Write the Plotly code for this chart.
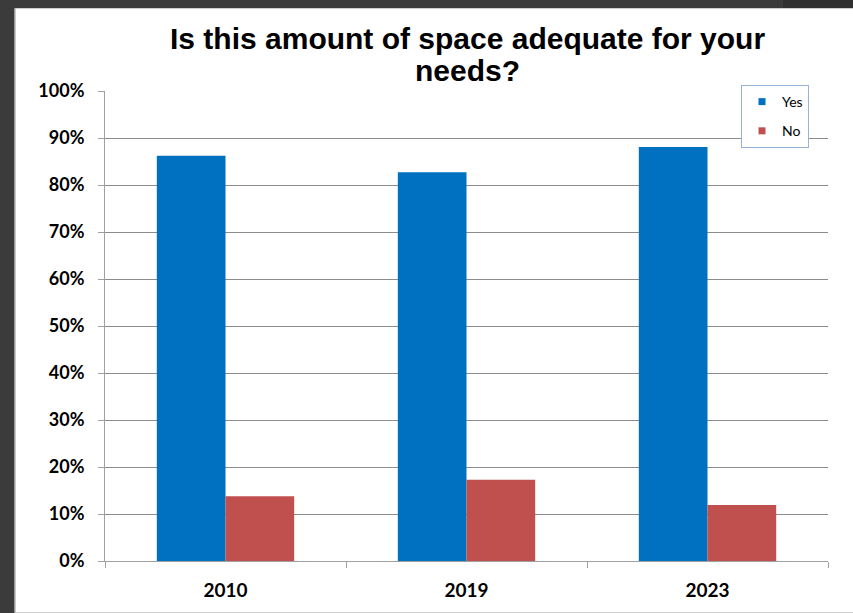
import plotly.graph_objects as go

# Survey results: share of respondents answering Yes / No
years = ["2010", "2019", "2023"]
yes_share = [86.2, 82.7, 88.1]
no_share = [13.8, 17.3, 11.9]
y_ticks = [0, 10, 20, 30, 40, 50, 60, 70, 80, 90, 100]
y_tick_labels = [f"{v}%" for v in y_ticks]
title_lines = ["Is this amount of space adequate for your", "needs?"]

W, H = 853, 613
ML, MR, MT, MB = 105, 25, 91, 50
PW, PH = W - ML - MR, H - MT - MB
label_font = "Lato, 'Open Sans', sans-serif"
title_font = "'Liberation Sans', Arial, sans-serif"
YES_C, NO_C = "#0070C0", "#C0504D"


def px_x(px):
    """Pixel column -> paper x."""
    return (px - ML) / PW


def px_y(py):
    """Pixel row (from top) -> paper y."""
    return (H - MB - py) / PH


fig = go.Figure()
fig.add_trace(go.Bar(name="Yes", x=years, y=yes_share, marker_color=YES_C,
                     marker_line_width=0, showlegend=False))
fig.add_trace(go.Bar(name="No", x=years, y=no_share, marker_color=NO_C,
                     marker_line_width=0, showlegend=False))
# small square legend keys
for name, col in (("Yes", YES_C), ("No", NO_C)):
    fig.add_trace(go.Scatter(x=[None], y=[None], mode="markers", name=name,
                             legendgroup=name,
                             marker=dict(symbol="square", size=7, color=col)))

annotations = [
    dict(text=f"<b>{line}</b>", xref="paper", yref="paper",
         x=px_x(467), y=px_y(cy), xanchor="center", yanchor="middle",
         showarrow=False,
         font=dict(family=title_font, size=30, color="black"))
    for line, cy in zip(title_lines, (38, 70))
]

fig.update_layout(
    width=W, height=H,
    paper_bgcolor="#3b3b3b",
    plot_bgcolor="white",
    barmode="group",
    bargap=0.43,
    bargroupgap=0,
    margin=dict(l=ML, r=MR, t=MT, b=MB),
    annotations=annotations,
    showlegend=True,
    legend=dict(
        x=px_x(741), xanchor="left", y=px_y(85), yanchor="top",
        bgcolor="white", bordercolor="#95B3D7", borderwidth=1,
        font=dict(family=label_font, size=14, color="black"),
        itemwidth=30, traceorder="grouped", tracegroupgap=8,
    ),
    xaxis=dict(
        type="category",
        tickson="boundaries",
        ticks="outside", ticklen=6, tickcolor="#A0A0A0",
        showline=True, linecolor="#A0A0A0", linewidth=1,
        showgrid=False,
        ticklabelstandoff=12,
        tickfont=dict(family=label_font, size=19, color="black", weight="bold"),
    ),
    yaxis=dict(
        range=[0, 100],
        tickvals=y_ticks, ticktext=y_tick_labels,
        ticks="outside", ticklen=6, tickcolor="#A0A0A0",
        showline=True, linecolor="#A0A0A0", linewidth=1,
        showgrid=True, gridcolor="#8C8C8C", gridwidth=1,
        zeroline=False,
        ticklabelstandoff=10,
        tickfont=dict(family=label_font, size=18, color="black", weight="bold"),
    ),
    shapes=[
        # white slide area inside the dark frame
        dict(type="rect", xref="paper", yref="paper", layer="below",
             x0=px_x(15), x1=px_x(W + 2), y0=px_y(H + 2), y1=px_y(8),
             fillcolor="white", line=dict(width=0)),
        # thin light edge along the slide's left side
        dict(type="line", xref="paper", yref="paper", layer="below",
             x0=px_x(15), x1=px_x(15), y0=px_y(H + 2), y1=px_y(8),
             line=dict(color="#B8B8B8", width=1.5)),
        # darker block on the top-right of the frame
        dict(type="rect", xref="paper", yref="paper", layer="below",
             x0=px_x(783), x1=px_x(W + 2), y0=px_y(7.5), y1=px_y(-2),
             fillcolor="#2f2f2f", line=dict(width=0)),
    ],
)

fig.write_html("out.html")
